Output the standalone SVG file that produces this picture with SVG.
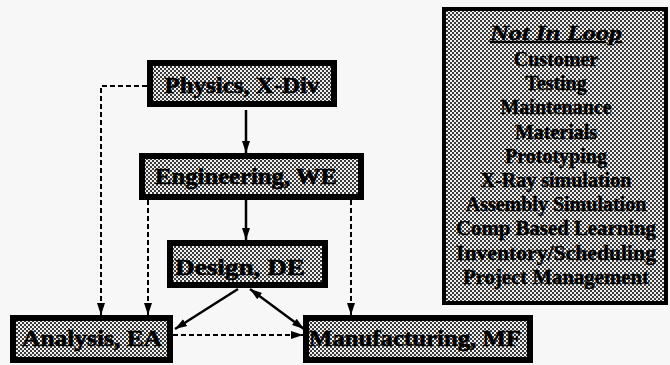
<svg xmlns="http://www.w3.org/2000/svg" width="670" height="365" viewBox="0 0 670 365">
<style>
.box{fill:url(#dither);stroke:#000;stroke-width:6}
.lbl{font-family:"Liberation Serif","Times New Roman",serif;font-weight:bold;font-size:24px;fill:#000;stroke:#000;stroke-width:0.6;text-anchor:middle}
.lst{font-family:"Liberation Serif","Times New Roman",serif;font-weight:bold;font-size:20px;fill:#000;stroke:#000;stroke-width:0.4;text-anchor:middle}
.solid{fill:none;stroke:#000;stroke-width:2.5}
.dash{fill:none;stroke:#000;stroke-width:2;stroke-dasharray:5 3}
</style>
<defs>
<pattern id="dither" width="4" height="4" patternUnits="userSpaceOnUse">
<rect width="4" height="4" fill="#f0f0f0"/>
<rect x="0" y="0" width="2" height="2" fill="#3a3a3a"/>
<rect x="2" y="2" width="2" height="2" fill="#3a3a3a"/>
</pattern>
<marker id="ah" viewBox="0 0 12 10" refX="12" refY="5" markerWidth="12" markerHeight="10" markerUnits="userSpaceOnUse" orient="auto-start-reverse">
<path d="M0,1 L12,5 L0,9 Z" fill="#000"/>
</marker>
</defs>
<rect width="670" height="365" fill="#f7f7f7"/>
<g id="connectors">
<path class="dash" d="M147,86 H101 V315" marker-end="url(#ah)"/>
<path class="solid" d="M246,110 V153" marker-end="url(#ah)"/>
<path class="dash" d="M148,200 V315" marker-end="url(#ah)"/>
<path class="solid" d="M246,200 V240" marker-end="url(#ah)"/>
<path class="dash" d="M351,200 V315" marker-end="url(#ah)"/>
<path class="solid" d="M238,289 L175,329" marker-end="url(#ah)"/>
<path class="solid" d="M250,289 L304,329" marker-start="url(#ah)" marker-end="url(#ah)"/>
<path class="dash" d="M173,335 H303" marker-end="url(#ah)"/>
</g>
<g id="physics">
<rect class="box" x="150" y="63" width="184" height="41"/>
<text class="lbl" x="242" y="93" textLength="155" lengthAdjust="spacingAndGlyphs">Physics, X-Div</text>
</g>
<g id="engineering">
<rect class="box" x="142" y="156" width="219" height="41"/>
<text class="lbl" x="246" y="184" textLength="182" lengthAdjust="spacingAndGlyphs">Engineering, WE</text>
</g>
<g id="design">
<rect class="box" x="170" y="243" width="155" height="42"/>
<text class="lbl" x="240" y="275" textLength="130" lengthAdjust="spacingAndGlyphs">Design, DE</text>
</g>
<g id="analysis">
<rect class="box" x="13" y="318" width="157" height="42"/>
<text class="lbl" x="92" y="346" textLength="140" lengthAdjust="spacingAndGlyphs">Analysis, EA</text>
</g>
<g id="manufacturing">
<rect class="box" x="306" y="318" width="224" height="42"/>
<text class="lbl" x="415" y="346" textLength="212" lengthAdjust="spacingAndGlyphs">Manufacturing, MF</text>
</g>
<g id="not-in-loop">
<rect class="box" x="444" y="9" width="222" height="294" style="stroke-width:4"/>
<text class="lst" x="556" y="40" style="font-style:italic;text-decoration:underline" textLength="132" lengthAdjust="spacingAndGlyphs">Not In Loop</text>
<text class="lst" x="556" y="66">Customer</text>
<text class="lst" x="556" y="90">Testing</text>
<text class="lst" x="556" y="114">Maintenance</text>
<text class="lst" x="556" y="139">Materials</text>
<text class="lst" x="556" y="163">Prototyping</text>
<text class="lst" x="556" y="187">X-Ray simulation</text>
<text class="lst" x="556" y="211">Assembly Simulation</text>
<text class="lst" x="556" y="235" textLength="200" lengthAdjust="spacingAndGlyphs">Comp Based Learning</text>
<text class="lst" x="556" y="260" textLength="200" lengthAdjust="spacingAndGlyphs">Inventory/Scheduling</text>
<text class="lst" x="556" y="284" textLength="186" lengthAdjust="spacingAndGlyphs">Project Management</text>
</g>
</svg>
